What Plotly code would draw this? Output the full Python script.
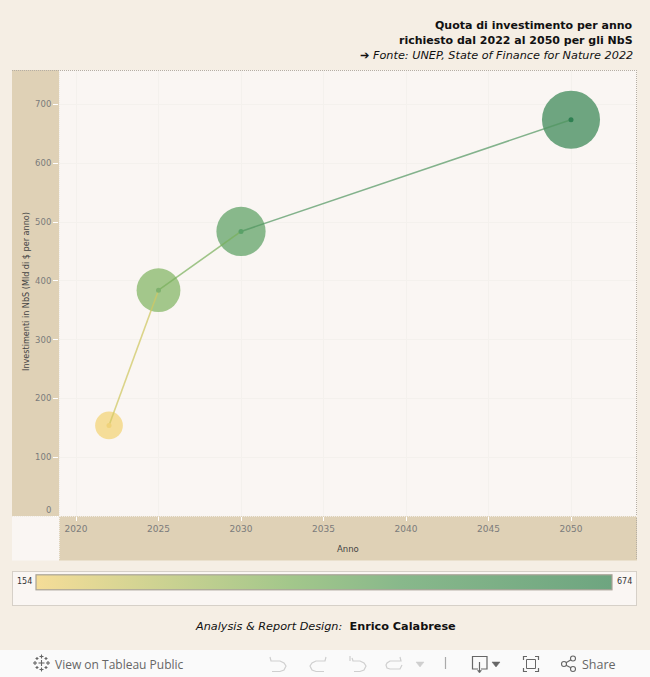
import plotly.graph_objects as go

years = [2022, 2025, 2030, 2050]
invest = [154, 384, 484, 674]
segment_colors = ["rgba(208,200,100,0.75)", "rgba(120,175,90,0.7)", "rgba(80,150,95,0.7)"]
dot_colors = ["#f0d27a", "#7fb26e", "#5aa168", "#2f8052"]
colorscale = [[0, "#f5dd98"], [0.44, "#a3c78b"], [0.635, "#88b88b"], [1, "#6ea580"]]
y_ticks = [0, 100, 200, 300, 400, 500, 600, 700]
y_labels = ["0<br>&nbsp;", "100", "200", "300", "400", "500", "600", "700"]
x_ticks = [2020, 2025, 2030, 2035, 2040, 2045, 2050]
title_lines = [("<b>Quota di investimento per anno</b>", 11),
               ("<b>richiesto dal 2022 al 2050 per gli NbS</b>", 11),
               ("➔ <i>Fonte: UNEP, State of Finance for Nature 2022</i>", 11.25)]

W, H = 650, 677
FONT = "DejaVu Sans"
PAGE, PANE, BAND = "#f5eee4", "#faf6f3", "#dfd1b6"
DOT = "#b5aea4"
FINE = "1px,1px"

def fx(x): return x / W
def fy(y): return 1 - y / H

fig = go.Figure()
fig.add_trace(go.Scatter(
    x=years, y=invest, mode="markers", hoverinfo="skip", showlegend=False,
    marker=dict(size=invest, sizemode="area", sizeref=0.4, color=invest, opacity=1,
                colorscale=colorscale, cmin=154, cmax=674, line=dict(width=0),
                colorbar=dict(orientation="h", xref="container", yref="container",
                              x=fx(324), xanchor="center", y=fy(590.5), yanchor="bottom",
                              lenmode="pixels", len=576, thickness=15, xpad=0, ypad=0,
                              outlinecolor="#a8a297", outlinewidth=1.2, borderwidth=0,
                              showticklabels=False, ticks=""))))
for i, c in enumerate(segment_colors):
    fig.add_trace(go.Scatter(x=years[i:i+2], y=invest[i:i+2], mode="lines", showlegend=False,
                             hoverinfo="skip", line=dict(color=c, width=1.6)))
fig.add_trace(go.Scatter(x=years, y=invest, mode="markers", showlegend=False, hoverinfo="skip",
                         marker=dict(size=5, color=dot_colors, opacity=1, line=dict(width=0))))

def rect(x0, y0, x1, y1, fill=None, line=None, dash=FINE, layer="below"):
    fig.add_shape(type="rect", xref="paper", yref="paper", x0=fx(x0), x1=fx(x1), y0=fy(y0), y1=fy(y1),
                  fillcolor=fill or "rgba(0,0,0,0)", layer=layer,
                  line=dict(color=line or "rgba(0,0,0,0)", width=1 if line else 0, dash=dash))

def hv(x0, y0, x1, y1, color):
    fig.add_shape(type="line", xref="paper", yref="paper", x0=fx(x0), x1=fx(x1), y0=fy(y0), y1=fy(y1),
                  line=dict(color=color, width=1, dash=FINE), layer="above")

rect(59, 70, 637, 516, PANE)
rect(12, 70, 59, 516, BAND)
rect(59, 516, 637, 560.5, BAND)
rect(12, 516, 59, 560.5, PANE)
rect(12.5, 571.5, 636.5, 605.5, PANE, DOT)
rect(0, 650, 650, 677, "#fafafa")
hv(12, 70.5, 637, 70.5, DOT)
hv(636.5, 70, 636.5, 560, DOT)
hv(59.5, 70, 59.5, 560, "#f0ece5")
hv(12, 516.5, 637, 516.5, "#f0ece5")

def icon(points, color, width=1.2, fill=None, closed=False):
    d = "M" + " L".join(f"{fx(x):.5f},{fy(y):.5f}" for x, y in points) + (" Z" if closed else "")
    fig.add_shape(type="path", xref="paper", yref="paper", path=d, layer="above",
                  fillcolor=fill or "rgba(0,0,0,0)", line=dict(color=color, width=width))

G1, G2 = "#cfcfcf", "#666666"
# undo / redo / replay icons
icon([(270, 657), (271, 661), (280, 661), (284, 663), (286, 666), (284, 670), (280, 671.5), (272, 671.5)], G1)
icon([(326, 657), (325, 661), (316, 661), (312, 663), (310, 666), (312, 670), (316, 671.5), (324, 671.5)], G1)
icon([(350, 656), (350, 661)], G1)
icon([(352, 658), (353, 661), (360, 661), (364, 663), (366, 666), (364, 670), (360, 671.5), (354, 671.5)], G1)
icon([(400, 657), (401, 661), (390, 661), (387, 663), (386, 665), (387, 668), (390, 669), (400, 669), (402, 665)], G1)
icon([(416, 662), (424, 662), (420, 667)], G1, 0.5, G1, True)
icon([(445.5, 657), (445.5, 669)], "#aaaaaa")
# download
icon([(478, 669), (472.5, 669), (472.5, 656.5), (487, 656.5), (487, 669), (481, 669)], G2)
icon([(479.5, 662), (479.5, 672)], G2)
icon([(477.5, 670.5), (481.5, 670.5), (479.5, 673)], G2, 0.5, G2, True)
icon([(492, 662), (500, 662), (496, 667)], G2, 0.5, G2, True)
# fullscreen
icon([(523.5, 660), (523.5, 656.5), (527, 656.5)], G2)
icon([(535, 656.5), (538.5, 656.5), (538.5, 660)], G2)
icon([(523.5, 668), (523.5, 671.5), (527, 671.5)], G2)
icon([(535, 671.5), (538.5, 671.5), (538.5, 668)], G2)
rect(526.5, 659.5, 535.5, 668.5, None, G2, "solid", "above")
# share
for cx, cy in [(564, 664), (573, 658.5), (573, 669)]:
    fig.add_shape(type="circle", xref="paper", yref="paper", x0=fx(cx-2.5), x1=fx(cx+2.5),
                  y0=fy(cy-2.5), y1=fy(cy+2.5), layer="above", line=dict(color=G2, width=1.1))
icon([(566, 662.8), (571, 659.8)], G2, 1.1)
icon([(566, 665.2), (571, 667.7)], G2, 1.1)
# tableau mark
for cx, cy, r in [(41.5, 663, 3), (41.5, 656.5, 2), (41.5, 669.5, 2), (35, 663, 2), (48, 663, 2),
                  (37, 658.5, 1.5), (46, 658.5, 1.5), (37, 667.5, 1.5), (46, 667.5, 1.5)]:
    icon([(cx-r, cy), (cx+r, cy)], G2, 1.1)
    icon([(cx, cy-r), (cx, cy+r)], G2, 1.1)

def note(x, y, text, size, color="#000000", anchor="left", family=FONT, angle=0):
    fig.add_annotation(xref="paper", yref="paper", x=fx(x), y=fy(y), text=text, showarrow=False,
                       xanchor=anchor, yanchor="middle", textangle=angle, align=anchor,
                       font=dict(family=family, size=size, color=color))

for (line, size), y in zip(title_lines, [25, 40, 55]):
    note(635, y, line, size, "#111111", "right")
note(347.5, 548.5, "Anno", 8.5, "#444444", "center")
note(26, 292, "Investimenti in NbS (Mld di $ per anno)", 8.1, "#444444", "center", angle=-90)
note(15, 581, "154", 8, "#333333")
note(615, 581, "674", 8, "#333333")
note(325, 626, "<i>Analysis &amp; Report Design:</i>  <b>Enrico Calabrese</b>", 11.25, "#111111", "center")
note(53, 664, "View on Tableau Public", 12, "#666666", family="Open Sans")
note(580, 664, "Share", 12.5, "#666666", family="Open Sans")

fig.update_layout(
    width=W, height=H, autosize=False, paper_bgcolor=PAGE, plot_bgcolor=PANE,
    margin=dict(l=0, r=0, t=0, b=0, pad=0, autoexpand=False), showlegend=False,
    font=dict(family=FONT),
    xaxis=dict(domain=[fx(59), fx(637)], range=[2018.97, 2054], tickvals=x_ticks,
               ticks="outside", ticklen=4, tickcolor="#ffffff", tickwidth=1,
               gridcolor="#f4f1ed", gridwidth=1, zeroline=False, showline=False,
               tickfont=dict(family=FONT, size=9, color="#7b7b7b")),
    yaxis=dict(domain=[fy(516), fy(70)], range=[0, 758.5], tickvals=y_ticks, ticktext=y_labels,
               ticks="outside", ticklen=5, tickcolor="#ffffff", tickwidth=1,
               gridcolor="#f4f1ed", gridwidth=1, zeroline=False, showline=False,
               tickfont=dict(family=FONT, size=8.5, color="#7b7b7b")),
)
fig.write_html("out.html", config=dict(displayModeBar=False),
               post_script="document.body.style.margin='0';document.documentElement.style.overflow='hidden';")
